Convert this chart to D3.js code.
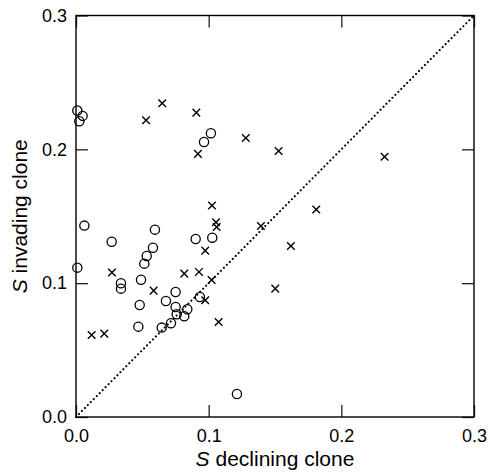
<!DOCTYPE html>
<html>
<head>
<meta charset="utf-8">
<script src="https://cdn.jsdelivr.net/npm/d3@7"></script>
<style>
  body { margin: 0; background: #fff; }
  svg text { font-family: "Liberation Sans", Arial, Helvetica, sans-serif; fill: #000; }
</style>
</head>
<body>
<div id="chart"></div>
<script>

// open circles: [S declining clone, S invading clone]
var circle_pts = [
	[0.001, 0.229], [0.005, 0.225], [0.0025, 0.221], [0.0965, 0.2055], [0.1017, 0.212], [0.0063, 0.143],
	[0.001, 0.1116], [0.0269, 0.131], [0.0595, 0.140], [0.058, 0.1265], [0.0533, 0.1203], [0.0515, 0.1146],
	[0.0902, 0.133], [0.1027, 0.134], [0.0339, 0.0999], [0.0339, 0.0959], [0.049, 0.1026], [0.048, 0.0837],
	[0.047, 0.0675], [0.0751, 0.0934], [0.0678, 0.0867], [0.0751, 0.0822], [0.0839, 0.0805], [0.0759, 0.0768],
	[0.0816, 0.0753], [0.0716, 0.070], [0.0646, 0.0668], [0.0934, 0.0897], [0.1213, 0.0172]
];

// crosses
var cross_pts = [
	[0.0528, 0.2217], [0.065, 0.2344], [0.0907, 0.2274], [0.0919, 0.1966], [0.128, 0.2085], [0.1025, 0.158],
	[0.1055, 0.1455], [0.106, 0.142], [0.1527, 0.1988], [0.2326, 0.1945], [0.1811, 0.155], [0.1394, 0.1427],
	[0.162, 0.1278], [0.1502, 0.0959], [0.0271, 0.108], [0.0585, 0.0944], [0.0816, 0.1071], [0.0927, 0.1084],
	[0.0974, 0.1243], [0.1022, 0.1024], [0.0974, 0.0872], [0.1075, 0.071], [0.0118, 0.0613], [0.0213, 0.0623]
];

var tick_vals = [0.0, 0.1, 0.2, 0.3];
var diag = [[0, 0], [0.3, 0.3]];

var margin = {top: 15.5, right: 15, bottom: 56, left: 76};
var width = 489 - margin.left - margin.right;
var height = 473 - margin.top - margin.bottom;

var svg = d3.select("#chart")
	.append("svg")
	.attr("width", 489)
	.attr("height", 473);

var canvas = svg.append("g")
	.attr("transform", "translate(" + margin.left + "," + margin.top + ")");

var x = d3.scaleLinear().domain([0, 0.3]).range([0, width]);
var y = d3.scaleLinear().domain([0, 0.3]).range([height, 0]);

var fmt = d3.format(".1f");

function style_axis(g) {
	g.select(".domain").remove();
	g.selectAll(".tick line").attr("stroke", "#222").attr("stroke-width", 1.3);
	g.selectAll(".tick text").style("font-size", "18px");
}

canvas.append("g")
	.attr("transform", "translate(0," + height + ")")
	.call(d3.axisBottom(x).tickValues(tick_vals).tickFormat(fmt).tickSize(-12).tickPadding(12))
	.call(style_axis);

canvas.append("g")
	.call(d3.axisLeft(y).tickValues(tick_vals).tickFormat(fmt).tickSize(-12).tickPadding(9))
	.call(style_axis);

canvas.append("g")
	.call(d3.axisTop(x).tickValues(tick_vals).tickFormat("").tickSize(-12))
	.call(style_axis);

canvas.append("g")
	.attr("transform", "translate(" + width + ",0)")
	.call(d3.axisRight(y).tickValues(tick_vals).tickFormat("").tickSize(-12))
	.call(style_axis);

// frame
canvas.append("rect")
	.attr("x", 0).attr("y", 0)
	.attr("width", width).attr("height", height)
	.attr("fill", "none")
	.attr("stroke", "#000")
	.attr("stroke-width", 1.4);

// dotted 1:1 line
canvas.append("path")
	.datum(diag)
	.attr("d", d3.line().x(function(d) { return x(d[0]); }).y(function(d) { return y(d[1]); }))
	.attr("fill", "none")
	.attr("stroke", "#000")
	.attr("stroke-width", 2.1)
	.attr("stroke-linecap", "round")
	.attr("stroke-dasharray", "0.1,4.1");

canvas.selectAll(".circ")
	.data(circle_pts)
	.enter().append("circle")
	.attr("class", "circ")
	.attr("cx", function(d) { return x(d[0]); })
	.attr("cy", function(d) { return y(d[1]); })
	.attr("r", 4.6)
	.attr("fill", "none")
	.attr("stroke", "#000")
	.attr("stroke-width", 1.3);

var cs = 3.8;
canvas.selectAll(".cross")
	.data(cross_pts)
	.enter().append("path")
	.attr("class", "cross")
	.attr("d", function(d) {
		var cx = x(d[0]), cy = y(d[1]);
		return "M" + (cx - cs) + "," + (cy - cs) + "L" + (cx + cs) + "," + (cy + cs) +
			"M" + (cx - cs) + "," + (cy + cs) + "L" + (cx + cs) + "," + (cy - cs);
	})
	.attr("stroke", "#000")
	.attr("stroke-width", 1.4);

// axis titles
var xt = svg.append("text")
	.attr("x", margin.left + width / 2)
	.attr("y", 466)
	.attr("text-anchor", "middle")
	.style("font-size", "21px");
xt.append("tspan").style("font-style", "italic").text("S");
xt.append("tspan").text(" declining clone");

var yt = svg.append("text")
	.attr("transform", "translate(27," + (margin.top + height / 2) + ") rotate(-90)")
	.attr("text-anchor", "middle")
	.style("font-size", "21px");
yt.append("tspan").style("font-style", "italic").text("S");
yt.append("tspan").text(" invading clone");

</script>
</body>
</html>
